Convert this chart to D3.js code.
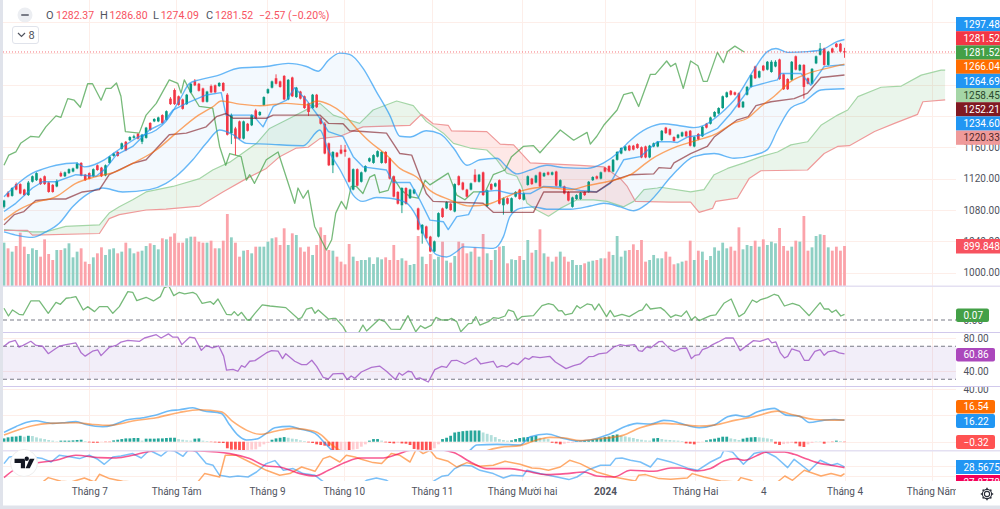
<!DOCTYPE html>
<html><head><meta charset="utf-8">
<script src="https://cdn.jsdelivr.net/npm/d3@7"></script>
<style>html,body{margin:0;padding:0;background:#fff;overflow:hidden}svg{display:block;font-family:Roboto,"Noto Sans",sans-serif}.soft{filter:blur(.4px)}</style>
</head><body><svg id="c" width="1000" height="509"></svg>
<script>
const opens=[1084,1102,1098,1113,1113,1106,1099,1116,1118,1120,1123,1115,1112,1110,1127,1123,1127,1129,1133,1140,1125,1127,1123,1137,1134,1124,1140,1149,1154,1158,1167,1169,1172,1177,1167,1172,1191,1193,1193,1201,1195,1222,1233,1225,1221,1215,1230,1244,1241,1235,1218,1238,1239,1238,1242,1227,1178,1184,1193,1171,1190,1188,1207,1201,1214,1229,1236,1248,1244,1251,1221,1249,1224,1231,1225,1216,1210,1227,1197,1190,1165,1137,1153,1157,1157,1146,1106,1132,1116,1129,1142,1140,1148,1140,1154,1146,1123,1103,1086,1108,1095,1101,1082,1050,1059,1046,1027,1046,1082,1082,1088,1078,1123,1115,1106,1106,1125,1116,1128,1085,1113,1110,1118,1086,1095,1078,1097,1106,1093,1112,1120,1115,1128,1123,1128,1125,1129,1110,1110,1103,1084,1094,1094,1103,1103,1118,1123,1120,1134,1136,1129,1144,1152,1156,1162,1162,1164,1160,1161,1147,1161,1161,1169,1185,1183,1173,1172,1174,1180,1181,1161,1177,1174,1190,1190,1199,1203,1210,1224,1232,1230,1229,1211,1227,1237,1263,1249,1264,1259,1256,1263,1272,1253,1247,1246,1276,1258,1265,1248,1241,1267,1278,1286,1265,1286,1292,1292,1282.37];
const closes=[1092,1097,1108,1106,1101,1099,1115,1123,1127,1113,1113,1103,1103,1117,1123,1128,1132,1133,1139,1124,1118,1120,1132,1131,1123,1137,1148,1152,1149,1165,1156,1173,1174,1171,1176,1185,1182,1196,1198,1191,1206,1215,1215,1214,1209,1227,1241,1239,1232,1218,1231,1230,1230,1242,1232,1176,1201,1171,1171,1193,1181,1201,1197,1205,1224,1234,1244,1241,1237,1221,1246,1225,1236,1222,1210,1205,1227,1211,1190,1152,1137,1154,1148,1152,1154,1116,1132,1111,1128,1136,1146,1150,1155,1154,1140,1120,1097,1088,1108,1088,1106,1106,1055,1061,1044,1027,1040,1076,1071,1090,1080,1113,1112,1106,1097,1114,1116,1125,1099,1105,1106,1114,1088,1095,1088,1095,1103,1094,1101,1123,1113,1124,1110,1127,1125,1128,1111,1118,1101,1092,1096,1099,1102,1099,1116,1122,1120,1128,1129,1129,1144,1154,1159,1161,1156,1157,1159,1147,1147,1162,1165,1167,1181,1178,1176,1168,1176,1179,1174,1162,1173,1170,1186,1185,1198,1205,1210,1225,1230,1227,1227,1211,1218,1237,1252,1248,1257,1258,1269,1269,1269,1247,1234,1234,1269,1259,1265,1237,1241,1260,1276,1286,1265,1282,1281,1288,1282,1281.52];
const highs=[1093,1104,1109,1115,1114,1107,1117,1124,1128,1121,1124,1116,1113,1119,1129,1129,1133,1134,1141,1141,1126,1128,1133,1138,1135,1138,1149,1153,1155,1166,1168,1174,1176,1178,1177,1186,1192,1197,1199,1202,1207,1224,1235,1226,1222,1228,1242,1247,1242,1236,1232,1240,1240,1243,1243,1229,1203,1186,1194,1194,1191,1202,1209,1206,1225,1235,1245,1253,1245,1252,1247,1250,1237,1232,1226,1217,1228,1228,1198,1192,1166,1155,1154,1163,1163,1147,1133,1133,1129,1137,1147,1151,1156,1155,1155,1147,1124,1104,1109,1109,1107,1107,1083,1062,1060,1047,1041,1077,1083,1091,1089,1114,1124,1116,1107,1115,1132,1126,1129,1106,1114,1115,1119,1096,1096,1096,1104,1107,1102,1124,1121,1125,1129,1128,1129,1129,1130,1119,1111,1104,1097,1100,1103,1104,1117,1123,1124,1129,1135,1137,1145,1155,1160,1162,1163,1163,1165,1161,1162,1163,1166,1168,1182,1186,1184,1174,1177,1180,1181,1182,1174,1178,1187,1191,1199,1206,1211,1226,1231,1233,1231,1230,1219,1238,1253,1264,1258,1265,1270,1271,1271,1273,1254,1248,1270,1277,1266,1266,1249,1261,1277,1293,1287,1283,1287,1293,1293,1286.8];
const lows=[1082,1096,1097,1105,1100,1098,1098,1115,1117,1112,1112,1102,1102,1109,1122,1122,1126,1128,1132,1123,1117,1119,1122,1130,1122,1123,1139,1148,1148,1157,1155,1168,1171,1170,1164,1171,1181,1192,1192,1190,1194,1214,1214,1213,1208,1214,1229,1238,1231,1217,1217,1229,1229,1237,1231,1175,1164,1150,1170,1170,1180,1187,1196,1200,1213,1228,1235,1240,1236,1220,1220,1224,1223,1221,1209,1200,1209,1210,1189,1151,1136,1127,1147,1151,1148,1115,1105,1110,1115,1128,1141,1139,1147,1139,1139,1119,1096,1087,1076,1087,1094,1100,1054,1037,1043,1026,1026,1045,1070,1081,1079,1077,1111,1105,1096,1105,1115,1115,1098,1084,1105,1109,1087,1074,1087,1077,1096,1093,1092,1111,1112,1114,1109,1122,1124,1124,1110,1109,1100,1091,1083,1093,1093,1098,1102,1117,1119,1119,1128,1128,1128,1143,1151,1155,1155,1156,1158,1146,1146,1146,1160,1160,1168,1177,1175,1167,1171,1173,1173,1161,1160,1169,1173,1184,1189,1198,1202,1209,1223,1226,1226,1210,1210,1226,1236,1247,1248,1257,1258,1255,1262,1246,1233,1233,1245,1258,1257,1222,1240,1240,1266,1277,1264,1264,1280,1287,1281,1274.09];
const volumes=[975,848,773,900,1200,885,720,848,810,660,1050,720,585,810,810,848,960,645,773,848,548,495,645,735,870,698,825,848,735,773,975,848,735,773,795,900,960,923,825,1073,1050,1110,1185,975,975,1073,1110,1110,998,975,975,1020,848,848,1020,1620,1095,975,660,795,810,735,885,885,885,998,1073,1095,923,1298,923,1185,1148,870,773,885,698,923,1320,1148,810,795,660,548,488,945,660,563,585,585,645,495,645,600,645,585,923,585,623,570,473,495,1125,660,495,720,600,660,998,570,525,675,998,960,735,773,870,660,1170,735,585,810,885,900,510,600,585,675,585,1035,750,810,1275,735,660,548,660,773,660,548,585,473,473,510,548,570,585,623,623,773,698,1125,660,795,810,938,810,1035,548,585,698,623,623,773,660,488,510,548,570,1020,585,795,773,585,675,870,795,975,848,885,795,1320,825,923,900,1020,885,1050,923,998,960,1305,900,795,885,1020,998,1575,795,870,1125,1163,1148,870,795,885,795,899.848];
const bbUpper=[[0,1097],[7,1127],[9.5,1132],[12.8,1137],[17.7,1140],[19.8,1135],[24.7,1144],[27.6,1154.5],[33.3,1173.5],[37.5,1182],[39.9,1193],[43.2,1220],[45.7,1241.5],[48.1,1246],[52.3,1251],[58,1261],[64.6,1263],[70,1267],[74.5,1263],[77.4,1257],[79.9,1271],[82.7,1280],[85.1,1278.5],[88.4,1261],[91.7,1231],[95,1201],[97.5,1174],[100,1173],[104,1181],[107.4,1177],[110.7,1159],[114,1137],[117.2,1144],[121.4,1146],[123.8,1135],[126.3,1126],[129.6,1131],[133.7,1137],[137.8,1134],[143.6,1133],[147.7,1140],[151,1152],[154.3,1169],[158.4,1184],[162.5,1190],[165.8,1188],[169.9,1185],[172.4,1188],[176.5,1203],[180.6,1225],[184.7,1259],[188,1282],[190.1,1286],[193,1281],[197.9,1282],[201.2,1284],[205.3,1295],[207,1297.48]];
const bbLower=[[0,1052],[2.9,1048],[7,1045],[10.3,1052],[13.6,1063],[16.9,1084],[20.2,1099],[24.3,1108],[29.2,1103],[35.8,1106],[39.9,1114],[42.4,1123],[46.5,1144],[49.8,1165],[53.1,1182],[56.4,1176],[59.7,1165],[64.6,1164],[73.7,1162],[77.8,1182],[79.9,1156],[82.8,1131],[84.3,1116],[86,1099],[88.4,1091],[91.7,1096],[95,1095],[99.1,1089],[101.6,1071.5],[104,1042],[106.5,1023],[109,1020],[111.5,1027],[113.1,1033],[120.5,1031],[123,1046],[124.6,1071.5],[127.1,1082],[130.4,1084],[133.7,1081],[139.5,1081],[144.4,1085],[147.7,1088.5],[151.8,1084],[155.1,1079],[158.4,1088],[164.2,1122],[165.8,1131],[169.9,1148],[174.9,1152],[179.8,1146],[184.7,1150],[188,1157],[190.5,1182],[193.8,1210],[197.1,1218],[201.2,1233],[207,1234.6]];
const bbBasis=[[0,1067],[2.9,1078],[7,1088.5],[12.8,1097],[17.7,1114],[22.7,1122.5],[27.6,1129],[31.7,1139.5],[37.5,1156.5],[42.4,1178],[47.4,1199],[51.5,1212],[53.5,1219],[58,1215],[63,1213],[69.6,1216],[74.5,1214],[77,1219],[80.3,1214],[83.5,1203],[86.8,1184],[90.1,1167],[94.2,1150],[97.5,1133],[101.6,1122],[104.9,1105],[109.8,1093],[114.8,1085],[119.7,1088],[123.8,1097],[127.9,1105],[132.9,1109],[139.5,1106],[143.6,1111],[148.5,1116],[154.3,1125],[159.2,1144],[165.8,1161],[170.8,1169],[174.9,1176],[179.8,1191],[183.1,1197],[186.4,1212],[189.7,1225],[193.8,1244],[197.9,1254],[202.9,1261],[207,1266.04]];
const tenkan=[[0,1078],[2.9,1088.5],[7,1108],[9.5,1116],[12.8,1116],[17.7,1125],[22.7,1123],[25.1,1133],[27.6,1150],[31.7,1161],[35.8,1182],[39.1,1190.5],[41.6,1207.5],[44.9,1216],[49.8,1226.7],[53.5,1229.7],[54.7,1201],[58,1201],[61.3,1201],[63.8,1186],[66.3,1212],[69.6,1220],[71.6,1236],[74.5,1220],[77.8,1197],[79.9,1180],[83.5,1173.5],[86,1148],[88.4,1135],[94.2,1131],[95.8,1115],[100,1115],[102.4,1093],[104.9,1067],[108.2,1065],[109.4,1055],[111.5,1071.5],[114.4,1074],[117.2,1103],[121.4,1105],[124.6,1101],[129.6,1101],[132.9,1110],[137.8,1109],[141.9,1105],[146,1103],[149.3,1114],[152.6,1144],[156.7,1148],[160.9,1167],[164.2,1167],[165.8,1166],[168.3,1173],[172.4,1176],[175.7,1184],[179,1203],[183.9,1237],[188.9,1244],[190.5,1246],[191.3,1254],[196.3,1254],[198.7,1239],[202,1263],[206.1,1265],[207,1264.69]];
const kijun=[[0,1061],[2.5,1074],[4.9,1078],[7.8,1092],[11.9,1094],[15.2,1094],[19.3,1103],[23.5,1106],[25.9,1125],[31.7,1139.5],[35,1144],[40.7,1176],[44.9,1178],[49.8,1186],[52.3,1199],[54.7,1203],[56.4,1197],[64.6,1197],[66.3,1201],[77.8,1201],[79.9,1190.5],[83.5,1190],[85.1,1181],[88.4,1180],[94.2,1178],[97.5,1152],[100.4,1150],[104,1101],[105.7,1091],[118,1088.5],[120.5,1077],[130.4,1077],[132.9,1103],[146,1103],[150.2,1118],[154.3,1125],[160,1126],[161.3,1134],[164.2,1133],[165,1140],[169.1,1152],[173.2,1161],[174.9,1173],[180.6,1195],[183.3,1199],[185.2,1213],[188.9,1218],[194.6,1222],[197.9,1229],[201.2,1249],[207,1252.21]];
const chikou=[[0,1137],[1.2,1150],[2.9,1154],[4.1,1165],[6.6,1174],[8.6,1173],[10.3,1186],[12.8,1200],[14,1198],[15.7,1222],[17.3,1220],[18.8,1211],[20.6,1241],[21.8,1241],[23.9,1220],[25.1,1235],[26.3,1235],[27.7,1242],[28.8,1225],[29.9,1180],[33.3,1178],[35,1201],[37.5,1216],[40.7,1246],[42.8,1241.5],[43.6,1229],[44.4,1246],[46.1,1229],[48.1,1212],[51.4,1210],[53.1,1161],[54.6,1137],[55.6,1152],[58.4,1148],[59.7,1118],[60.5,1125],[61.7,1114],[64.6,1144],[67.5,1154],[71.6,1088.5],[72.4,1108],[73.7,1095],[74.9,1105],[76.5,1059],[79.4,1029],[80.7,1042],[81.7,1076],[83.1,1091],[84.3,1081],[85.5,1110],[86.8,1110],[88.4,1101],[90.1,1122],[91.3,1125],[92.5,1102],[94.6,1105],[95.8,1122],[97.9,1105],[100,1097],[102,1095],[103.7,1118],[104.9,1112],[109.4,1127],[111.5,1099],[113.5,1093],[115.6,1103],[118.5,1103],[120.5,1125],[123.4,1131],[125,1148],[127.9,1161],[130.4,1162],[132,1153],[133.7,1163],[137,1182],[140.3,1169],[143.6,1179],[144.4,1164],[146,1174],[147.7,1188],[151,1207.5],[152.6,1227],[154.7,1230],[156.3,1212],[159.2,1253],[160.4,1253],[163.2,1270],[164.2,1263],[165.4,1267],[167.3,1235],[169.1,1270],[170.9,1264],[172.2,1244],[173.2,1244],[175.7,1281],[177.2,1268],[178.2,1282],[180,1289],[182.3,1281.52]];
const spanA=[[0,1055],[7,1052],[10.3,1052],[15.2,1059],[23.5,1061],[25.9,1076],[28.4,1084],[31.7,1093],[35,1103],[41.6,1110],[48.2,1120],[51.4,1131],[55.6,1141],[58.4,1151],[62.2,1165],[65.4,1184],[70.4,1197],[74.5,1208],[77.8,1216],[81.1,1201],[83.5,1197],[87.6,1190.5],[90.9,1207.5],[96.7,1219],[100.8,1213],[104,1193],[108.2,1178],[110.7,1165],[114.8,1159],[118.9,1156.5],[121.4,1144],[123.8,1127],[126.3,1123],[127.5,1110],[128.8,1088.5],[131.2,1080],[134.1,1072],[137,1082],[141.1,1093],[145.2,1093],[148.5,1091],[152.6,1084],[155.1,1091],[157.6,1106],[160.9,1108],[161.7,1109],[169.1,1103],[172.4,1106],[174.9,1125],[178.2,1133],[182.3,1140],[186.4,1148],[190.5,1154],[193.8,1163],[197.9,1167],[201.2,1188],[205.3,1201],[207.8,1207.5],[210.3,1224.5],[216,1236.5],[221,1238],[225.9,1252],[230.8,1258.45],[231.8,1258.45]];
const spanB=[[0,1054],[5.8,1054],[7,1048],[23.5,1050],[25.9,1069],[28.4,1074],[35,1080],[39.9,1081],[48.2,1085],[53.9,1103],[59.7,1120],[64.6,1133],[67.9,1148],[72,1159],[74.9,1160],[77.8,1171],[82.8,1174],[88.4,1186],[100,1188],[102.8,1202],[105.7,1190],[109.4,1188],[110.2,1181],[118.9,1180],[122.2,1164],[125.5,1163],[129.6,1140],[141.9,1137],[147.7,1135],[151.8,1120],[153.5,1110],[155.5,1091],[164.2,1090],[169.1,1090],[171.2,1077],[174.5,1082],[175.3,1091],[180.6,1095],[183.5,1120],[186.4,1130],[197.9,1131],[202,1152],[205.3,1161],[208.2,1162],[214.4,1180],[219.3,1190.5],[225,1202],[226.3,1218],[231.8,1220.33]];
const momentum=[[0,.144],[1.1,.049],[2.1,.123],[3.7,.07],[4.7,.062],[6.6,.234],[8.7,.234],[10.9,.082],[12.8,.217],[13.9,.193],[15.3,.267],[16.5,.275],[17.7,.287],[19.5,.123],[20.6,.164],[22.3,.103],[23.5,.164],[25.5,.164],[26.8,.082],[28.4,.164],[30.5,.349],[31.7,.34],[32.7,.238],[35,.279],[36.8,.234],[38.5,.287],[39.5,.398],[40.6,.418],[41.8,.299],[43.2,.34],[44.5,.32],[46.5,.34],[47.4,.316],[48.8,.205],[50.8,.226],[51.6,.193],[52.7,.258],[54.8,.07],[56,.062],[56.7,.103],[57.6,.053],[58.5,.094],[59.9,0],[60.5,0],[61.8,.082],[63.6,.185],[65.5,.172],[69.4,.152],[72.5,.012],[73.3,.029],[74.5,.135],[75.8,.152],[76.6,.082],[77.4,.123],[79.9,.012],[81.1,.02],[81.7,.02],[83.5,-.082],[84.3,-.152],[85.1,-.225],[86.8,-.246],[87.4,-.152],[88.4,-.062],[89.3,-.135],[92.4,.008],[93.8,-.02],[95.3,-.111],[97.6,-.115],[99.5,.053],[101.4,-.144],[102.6,-.07],[103.7,-.103],[105.3,-.062],[106.4,.033],[107.8,0],[109.4,0],[110.2,.02],[111.5,-.02],[112.5,-.144],[114.4,-.045],[115.2,-.041],[116.2,.041],[117.2,-.062],[119.3,-.02],[120.5,.029],[121.8,.02],[123.4,.049],[124.2,.123],[125.5,.103],[126.5,0],[127.5,.041],[130.4,.053],[132.5,.176],[134.1,.201],[135.3,.185],[136.6,.111],[137.4,.115],[138.2,.062],[139.9,.082],[141.1,.176],[141.9,.144],[143.6,.197],[144.8,.185],[145.5,.123],[146.5,.197],[148.4,.041],[149.3,.119],[150.3,.041],[152.2,.07],[154,.041],[156.3,.111],[157.2,.123],[158.2,.197],[159.2,.135],[161.7,.152],[162.7,.115],[164.2,.033],[165.4,.062],[166.8,.045],[168.1,.111],[169.3,0],[170.2,.041],[171.2,-.008],[174,.053],[175.3,.062],[177.3,.205],[179.1,.258],[181,.041],[182.3,.082],[184.3,.246],[185.4,.217],[186.2,.246],[188,.275],[189.7,.316],[190.7,.299],[192.2,.172],[194.2,.205],[195.9,.176],[198.3,.053],[201,.213],[202,.135],[203.1,.135],[203.9,.094],[204.9,.123],[206.1,.049],[207,.07]];
const rsi=[[0,70],[1.3,75],[2.8,77],[3.7,69],[4.7,71],[6.6,76],[7.9,71],[9.5,70],[10.9,61],[12.4,66],[13.6,70],[15.3,72],[17.7,74],[19,62],[20,58],[21.8,64],[23.1,65.5],[23.9,58.6],[26,69],[27.6,71],[28.8,75],[30.5,77],[33.4,76],[34.6,80],[37.5,84],[38.7,80],[40.5,85],[41.6,81],[42.8,81],[43.8,72],[45.7,81],[47,80],[48.6,65],[49.8,71],[51.3,68],[52.9,70.4],[54.1,58],[54.8,41],[56.4,42],[57.6,39.7],[58.5,46.5],[59.3,44.5],[60.5,51.8],[61.8,52.6],[64.6,61.9],[65.9,64.7],[67.5,64],[68.6,55],[69.4,61],[71.6,51.8],[73.3,47.7],[74.5,47.7],[75.8,53],[77,45.7],[78.6,32.4],[79.9,30.4],[81,36.4],[83.5,37.2],[84.5,29.6],[85.5,34],[86.4,31.2],[88,38.8],[90.5,44.5],[92.5,46],[94.2,39.7],[96.4,29.6],[97.3,37.6],[98.1,34.8],[99.5,39.7],[100.4,38.9],[101.4,30.4],[102.4,31.6],[104.5,26.7],[106.1,41.7],[107.8,45.7],[109,44.5],[110.2,52.6],[111.5,53],[113.5,48.5],[116.2,55.8],[117.4,48.5],[120.5,51.8],[121.4,44.5],[122.6,46.5],[123.8,44.9],[125.3,49.8],[126.5,47.7],[128.3,55.8],[129.3,54.2],[130.2,57.4],[132,56.2],[134.4,57.8],[135.8,51],[138.4,42.9],[140.3,46.5],[141.9,48.5],[144,57.4],[145.2,57.8],[146.5,60.7],[148.4,61.9],[150.2,69.1],[151.8,72],[153,70.8],[155.3,72],[156.3,64.7],[157.2,63.9],[158.2,69.1],[159.2,67.9],[161.3,75.6],[162.1,76],[162.9,72],[164.2,65.9],[165.2,63.9],[166.6,67.1],[168.1,67.9],[169.3,55],[170.2,59],[171.2,59.9],[172,65.9],[173.2,67.9],[174.5,72],[175.9,75.2],[177.7,80],[179.6,80],[181.3,64.7],[182.7,70],[184.6,76.8],[186.2,76],[188.2,79.3],[189.1,74],[190.1,75.2],[191.2,61.9],[192.2,55.8],[193,57.8],[194,66.7],[195.9,63.9],[197.1,53],[198.2,53],[199.7,63.9],[201,65.9],[202,59],[202.9,63.1],[204.5,64.7],[205.7,61.9],[207,60.86]];
const macdLine=[[0,7.1],[2.9,11.4],[5.4,14.6],[7.9,15.9],[10.3,14.6],[12,13.9],[15.3,14.6],[17.7,15.2],[20.2,13.1],[24.3,11.4],[26.8,12.6],[30.1,16.4],[34.2,18.2],[37.5,20.2],[40.8,23.5],[43.2,24.2],[46.5,25.8],[49,23.5],[53.5,21.5],[55.6,12.6],[57.6,5],[59.7,1.3],[62.2,2],[64.6,6.3],[66.7,10.6],[70.4,11.6],[72.9,9.6],[76.6,6.3],[79.1,-1.3],[81.1,-7.6],[88.4,-22.7],[100.8,-32.8],[109,-22.7],[114.8,-6.3],[116.4,-2.5],[121.4,-2],[127.1,-2.5],[129.6,3.8],[133.7,5.8],[137.8,2.5],[141.1,.5],[144.4,1.3],[148.5,5],[153.5,12.1],[155.9,13.9],[159.2,13.4],[162.5,16.2],[164.2,15.9],[166.6,13.9],[171.2,10.6],[174.9,12.6],[178.2,18.9],[180.2,20.2],[182.7,18.9],[185.6,22.7],[189.7,25.3],[192.6,20.2],[195.9,19.4],[198.3,14.6],[202,16.4],[204.5,16.9],[207,16.22]];
const macdSignal=[[0,5],[2.9,8.3],[7,12.1],[11.1,13.9],[17.7,14.4],[21.8,13.1],[26,12.4],[31.7,15.7],[37.5,18.2],[43.2,22.2],[48.2,24.2],[53.5,22.7],[56.4,15.2],[59.7,8.8],[63,5.6],[67.1,8.1],[71.2,10.1],[76.2,8.1],[78.2,5],[80.3,-1.3],[82.8,-6.8],[88.4,-22.7],[100.8,-31.6],[109,-29],[118.9,-6.8],[122.2,-4.3],[127.1,-3],[131.2,1.3],[134.5,3.3],[137.8,3],[141.9,.8],[146,2],[152.6,5],[156.7,10.6],[162.5,13.9],[166.6,13.1],[171.2,11.9],[174.9,12.6],[180.2,16.4],[184.7,18.9],[190.5,23.2],[194.6,20.2],[199.6,16.9],[204.5,16.4],[207,16.54]];
const macdHist=[2.5,3.3,3.8,4,4.5,3.8,4.5,4.3,3.3,2.5,2,1.3,.8,.3,.8,.8,.8,1,1.3,1.5,.5,-.5,-.8,-.8,-.3,-.3,-.3,1,1.5,2,2.5,2.5,2.8,2.8,.8,2.3,2.3,2.3,2.5,2.5,2.8,3,3,2,1.5,1,.8,2.3,2.5,.8,.5,-.3,-.5,-.8,-1,-5,-6,-6,-6.8,-6.8,-6.3,-6,-5.8,-3.8,-2,-1,1.5,2.5,3,3.5,3,2.3,2,1,.5,-.5,-1,-2,-2.5,-3,-3.5,-7,-7,-6.5,-6.3,-6.3,-6,-5.5,-3.8,-2,.8,2,2,.8,-.5,-1,-1.3,-1,-1.3,-1.5,-2.5,-5.5,-6,-6.5,-7,-7,-5,-2,2,3,4.5,7,7.5,8,8.3,8.5,8.5,8.5,7,6,5,3.5,2,1.3,.8,1,2,2.8,3.3,3.5,4,4.5,3,2.5,2,-.8,-1.3,-2,-1.5,-1,-.8,.3,.3,.8,1,1.5,2,2.5,3.5,4,5,5.5,4.5,4,3.3,2.8,2,1.5,1,.8,2.5,2.8,2,1.5,1.3,1,.8,.5,-1.3,-1.5,-2,-.8,-.3,1,1.8,2.3,3,3.8,3.8,2.5,2,1.3,2.3,3,3.3,3.5,3.3,3,2.5,2,-1.5,-2.5,-1.8,-1.3,-1,-1.3,-3.5,-4,-2,-1,.1,.1,-1.5,-.3,-.3,.8,.5,-.32];
const adxBlue=[[0,31.9],[1.3,38.5],[3.7,39.5],[7,38.5],[9.5,36.9],[11.6,33.5],[13.6,40.2],[16.5,38.5],[18.6,36.9],[21,40.2],[23.1,36.2],[24.7,31.2],[26.8,38.5],[28.8,39.5],[31.7,41.9],[33.8,37.5],[35.8,45.2],[38.7,39.5],[40.4,45.2],[42,44.5],[44.1,39.2],[45.7,46.9],[47.4,43.5],[49.8,31.9],[51.5,30.2],[53.1,20.2],[55.6,18.5],[57.6,19.5],[60.1,18.5],[62.2,23.5],[64.6,31.9],[66.7,34.9],[68.8,25.2],[71.2,26.9],[73.7,21.9],[76.6,20.2],[78.2,15.2],[79.9,10.2],[85.1,3.5],[89.3,15.2],[91.7,17.5],[94.2,15.2],[96.7,8.5],[102.4,3.5],[106.1,15.2],[107.8,19.2],[109.4,20.2],[111,26.9],[112.7,30.2],[115.2,29.5],[117.2,25.2],[120.5,21.9],[123,17.5],[125,20.2],[127.8,19.5],[128.8,25.2],[132,21.9],[136.2,18.5],[139.1,15.9],[141.1,18.5],[143.6,25.2],[146.9,30.2],[149.3,30.2],[150.6,36.9],[152.2,37.5],[154.3,35.2],[156.7,33.5],[159.2,28.5],[160.9,36.9],[164.2,33.5],[165.4,31.9],[168.7,26.9],[170.8,25.2],[174,33.5],[176.5,38.5],[177.3,45.2],[179.4,43.5],[182.1,31.2],[184.7,41.9],[187.2,44.5],[190.1,38.5],[193,27.9],[194.6,36.2],[198.3,24.5],[201,35.2],[203.7,30.2],[205.3,31.9],[207,28.57]];
const adxOrange=[[3.7,3.5],[7.8,6.9],[9.5,13.5],[10.9,17.9],[14,14.2],[16.5,13.5],[19.8,17.5],[22.3,13.5],[23.5,21.2],[26,16.9],[29.2,14.2],[33.4,12.9],[40,3.5],[47.4,11.9],[49.4,21.9],[53.1,18.5],[54.5,40.2],[57.2,40.2],[60.5,33.5],[64.6,25.2],[67.9,20.2],[70.4,21.9],[73.3,28.5],[76.6,24.2],[78.6,36.9],[80.3,39.2],[82.7,33.5],[84.3,40.2],[86.4,38.5],[88,36.2],[90.9,32.9],[93,31.9],[95.4,41.9],[97.5,40.2],[100,33.5],[101.6,46.9],[103.2,41.9],[104.9,45.2],[106.5,37.5],[109.4,34.2],[111.5,28.5],[114,32.9],[117.2,29.2],[120.5,30.2],[123.4,34.2],[127.1,31.2],[130,27.5],[132,26.9],[134.1,25.2],[137,28.5],[139.3,35.2],[141.9,31.9],[146,23.5],[150.2,18.5],[155.5,14.5],[156.3,20.2],[158,20.9],[161.3,16.9],[164.2,16.2],[168.3,17.5],[169.5,21.9],[172.4,18.5],[176.5,14.5],[180.6,13.5],[181.5,17.9],[183.9,15.2],[188,6.9],[190.5,13.5],[192.3,19.5],[194.2,15.2],[197.1,25.2],[201.2,19.5],[203.7,21.9],[206.1,19.5],[207,21.9]];
const adxPink=[[0,17.9],[2.9,26.9],[7,31.9],[12.8,35.2],[17.7,40.2],[23.5,37.9],[27.6,37.5],[31.7,40.2],[35,43.5],[39.1,45.2],[48.2,44.5],[55.6,41.9],[60.5,36.9],[64.6,29.5],[67.9,28.5],[72.9,21.9],[76.6,19.5],[79.9,25.2],[84.3,33.5],[87.6,37.5],[93.4,37.5],[96.7,40.9],[100,45.2],[104.9,46.9],[110.7,42.9],[115.6,31.9],[118.9,26.9],[124.6,26.9],[128.8,24.2],[133.7,20.9],[138.6,21.9],[142.8,23.5],[146,19.5],[150.2,18.5],[154.3,25.2],[160,24.2],[164.2,27.5],[166.6,27.5],[170.8,24.5],[174,26.9],[177.3,34.5],[180.2,36.9],[182.3,35.2],[188,43.5],[192.2,43.5],[194.6,41.2],[197.9,36.2],[201.2,31.9],[203.7,30.2],[207,27.88]];
const timeTicks=[21,42.4,64.8,83.7,105.4,127.6,148,170.2,187,207,228.6];
const timeLabels=["Tháng 7","Tháng Tám","Tháng 9","Tháng 10","Tháng 11","Tháng Mười hai","2024","Tháng Hai","4","Tháng 4","Tháng Năm"];
const priceTicks=[1000,1040,1080,1120,1160,1200,1240,1280,1320];
const priceTags=["1297.48","1281.52","1281.52","1266.04","1264.69","1258.45","1252.21","1234.60","1220.33"];
const ohlcLegend=[["O","1282.37"],["H","1286.80"],["L","1274.09"],["C","1281.52"]];
const changeLegend="−2.57 (−0.20%)";

const svg=d3.select("#c");
const W=956,GREY="#50535e",UP="#089981",DN="#f23645",FS=10,FF='Roboto,"Noto Sans",sans-serif';
const x=d3.scaleLinear().domain([0,207]).range([4,844.5]);
const yP=d3.scaleLinear().domain([1000,1320]).range([272.7,21.8]);
const yV=d3.scaleLinear().domain([0,900]).range([286,246]);
const yM=d3.scaleLinear().domain([0,.07]).range([320,314.3]);
const yR=d3.scaleLinear().domain([40,80]).range([371,338]);
const yD=d3.scaleLinear().domain([0,40]).range([441.7,389]);
const yA=d3.scaleLinear().domain([14.5,44.5]).range([481,451]);
const defs=svg.append("defs");
function clip(id,x0,y0,x1,y1){defs.append("clipPath").attr("id",id).append("rect").attr("x",x0).attr("y",y0).attr("width",x1-x0).attr("height",y1-y0);}
clip("pMain",3,0,W,286);clip("pMom",3,287,W,332);clip("pRsi",3,333,W,386);clip("pMacd",3,387,W,450);clip("pAdx",3,451,W,481);
clip("aMom",W,287,1000,332);clip("aRsi",W,333,1000,386);clip("aMacd",W,387,1000,450);clip("aTime",3,481,W,505);

const bg=svg.append("g");
bg.append("rect").attr("width",1000).attr("height",509).attr("fill","#fff");
const grid=bg.append("g").attr("stroke","#fdeee9").attr("stroke-width",1);
grid.selectAll("line.v").data(timeTicks).join("line").attr("x1",d=>Math.round(x(d))+.5).attr("x2",d=>Math.round(x(d))+.5).attr("y1",0).attr("y2",481);
function hgrid(vals,scale){grid.append("g").selectAll("line").data(vals).join("line").attr("x1",3).attr("x2",W).attr("y1",d=>Math.round(scale(d))+.5).attr("y2",d=>Math.round(scale(d))+.5);}
hgrid(priceTicks,yP);hgrid([40,80],yR);hgrid([0,20,40],yD);hgrid([20,30],yA);

const lineOf=(y,c)=>{const l=d3.line().x(d=>x(d[0])).y(d=>y(d[1]));return c?l.curve(c):l;};
function draw(g,data,y,color,w,curve,op){g.append("path").datum(data).attr("d",lineOf(y,curve)).attr("fill","none").attr("stroke",color).attr("stroke-width",w).attr("stroke-opacity",op==null?1:op).attr("stroke-linejoin","round");}
const mono=d3.curveMonotoneX;

// main pane
const mainClip=svg.append("g").attr("clip-path","url(#pMain)");
const main=mainClip.append("g").attr("class","soft");
main.selectAll("rect.vol").data(volumes).join("rect").attr("class","vol")
 .attr("x",(d,i)=>x(i)-1.4).attr("width",2.8).attr("y",d=>yV(d)).attr("height",d=>yV(0)-yV(d))
 .attr("fill",(d,i)=>closes[i]>=opens[i]?"#8fd0c4":"#fba3aa");

// cloud: each region is the overlap of "below one span" and "above the other"
const below=s=>d3.area().x(d=>x(d[0])).y1(d=>yP(d[1])).y0(300)(s);
const above=s=>d3.area().x(d=>x(d[0])).y1(d=>yP(d[1])).y0(0)(s);
defs.append("clipPath").attr("id","belowA").append("path").attr("d",below(spanA));
defs.append("clipPath").attr("id","belowB").append("path").attr("d",below(spanB));
main.append("g").attr("clip-path","url(#belowA)").append("path").attr("d",above(spanB)).attr("fill","#43a047").attr("fill-opacity",.11);
main.append("g").attr("clip-path","url(#belowB)").append("path").attr("d",above(spanA)).attr("fill","#f44336").attr("fill-opacity",.12);
draw(main,spanA,yP,"#a5d6a7",1.2);
draw(main,spanB,yP,"#ef9a9a",1.2);

// Bollinger band fill between the two envelopes
const up=bbUpper.map(d=>[x(d[0]),yP(d[1])]),lo=bbLower.slice().reverse().map(d=>[x(d[0]),yP(d[1])]);
main.append("path").attr("d","M"+up.concat(lo).map(p=>p.join(",")).join("L")+"Z").attr("fill","#2196f3").attr("fill-opacity",.055);

// dotted last-price line
mainClip.append("line").attr("x1",3).attr("x2",W).attr("y1",yP(closes[207])).attr("y2",yP(closes[207])).attr("stroke",DN).attr("stroke-opacity",.7).attr("stroke-dasharray","1 2");

draw(main,chikou,yP,"#43a047",1.3,null,.72);
// candles
main.selectAll("line.wick").data(opens).join("line").attr("x1",(d,i)=>x(i)).attr("x2",(d,i)=>x(i))
 .attr("y1",(d,i)=>yP(highs[i])).attr("y2",(d,i)=>yP(lows[i])).attr("stroke",(d,i)=>closes[i]>=opens[i]?UP:DN).attr("stroke-width",.9);
main.selectAll("rect.body").data(opens).join("rect").attr("x",(d,i)=>x(i)-1.3).attr("width",2.6)
 .attr("y",(d,i)=>yP(Math.max(d,closes[i]))).attr("height",(d,i)=>Math.max(1,Math.abs(yP(d)-yP(closes[i]))))
 .attr("fill",(d,i)=>closes[i]>=opens[i]?UP:DN);
draw(main,bbUpper,yP,"#2196f3",1.4,mono,.68);
draw(main,bbLower,yP,"#2196f3",1.4,mono,.68);
draw(main,tenkan,yP,"#2196f3",1.4,null,.68);
draw(main,kijun,yP,"#801922",1.4,null,.62);
draw(main,bbBasis,yP,"#ff6d00",1.4,mono,.6);

// momentum pane
const mom=svg.append("g").attr("clip-path","url(#pMom)");
mom.append("line").attr("x1",3).attr("x2",W).attr("y1",yM(0)).attr("y2",yM(0)).attr("stroke","#787b86").attr("stroke-dasharray","4 3");
draw(mom.append("g").attr("class","soft"),momentum,yM,"#43a047",1.3,null,.72);

// RSI pane
const rp=svg.append("g").attr("clip-path","url(#pRsi)");
rp.append("rect").attr("x",3).attr("width",W-3).attr("y",yR(70)).attr("height",yR(30)-yR(70)).attr("fill","#7e57c2").attr("fill-opacity",.1);
rp.selectAll("line").data([70,30]).join("line").attr("x1",3).attr("x2",W).attr("y1",d=>yR(d)).attr("y2",d=>yR(d)).attr("stroke","#787b86").attr("stroke-dasharray","4 3");
draw(rp.append("g").attr("class","soft"),rsi,yR,"#9c4fc4",1.3,null,.78);

// MACD pane
const mp=svg.append("g").attr("clip-path","url(#pMacd)").append("g").attr("class","soft");
mp.selectAll("rect").data(macdHist).join("rect").attr("x",(d,i)=>x(i)-1.4).attr("width",2.8)
 .attr("y",d=>Math.min(yD(d),yD(0))).attr("height",d=>Math.abs(yD(d)-yD(0)))
 .attr("fill",(d,i)=>{const p=i?macdHist[i-1]:0;return d>=0?(d>=p?"#26a69a":"#b2dfdb"):(d<=p?"#ff5252":"#ffcdd2");});
draw(mp,macdLine,yD,"#2196f3",1.6,mono,.65);
draw(mp,macdSignal,yD,"#ff6d00",1.6,mono,.55);

// ADX pane
const ap=svg.append("g").attr("clip-path","url(#pAdx)").append("g").attr("class","soft");
draw(ap,adxBlue,yA,"#2196f3",1.5,null,.6);
draw(ap,adxOrange,yA,"#ff6d00",1.5,null,.58);
draw(ap,adxPink,yA,"#f50057",1.6,mono,.65);

// separators & frame
const sep=svg.append("g");
sep.append("rect").attr("x",0).attr("y",0).attr("width",3).attr("height",509).attr("fill","#e0e3eb");
sep.append("rect").attr("x",3).attr("y",285.5).attr("width",997).attr("height",1.5).attr("fill","#e4e0f2");
sep.append("line").attr("x1",3).attr("x2",1000).attr("y1",332.5).attr("y2",332.5).attr("stroke","#d1c9ec");
sep.append("line").attr("x1",3).attr("x2",1000).attr("y1",386.5).attr("y2",386.5).attr("stroke","#d1c9ec");
sep.append("rect").attr("x",3).attr("y",450).attr("width",997).attr("height",1.5).attr("fill","#e4e0f2");
sep.append("rect").attr("x",0).attr("y",505.5).attr("width",1000).attr("height",3.5).attr("fill","#e0e3eb");

// axes
function axis(scale,ticks,clipId){
 const ax=svg.append("g").attr("clip-path",clipId?`url(#${clipId})`:null);
 const inner=ax.append("g").attr("transform",`translate(${W},0)`).call(d3.axisRight(scale).tickValues(ticks).tickSize(0).tickPadding(7.5).tickFormat(d3.format(".2f")));
 inner.select(".domain").remove();
 inner.selectAll("text").attr("fill",GREY).attr("font-size",FS).attr("font-family",FF);
}
axis(yP,priceTicks.slice(0,5));
axis(yM,[0],"aMom");
axis(yR,[40,80],"aRsi");
axis(yD,[40],"aMacd");

const timeAxis=svg.append("g").attr("clip-path","url(#aTime)").append("g").attr("transform","translate(0,481)")
 .call(d3.axisBottom(x).tickValues(timeTicks).tickSize(0).tickPadding(7).tickFormat((d,i)=>timeLabels[i]));
timeAxis.select(".domain").remove();
timeAxis.selectAll("text").attr("fill",GREY).attr("font-size",FS).attr("font-family",FF).attr("font-weight",(d,i)=>timeLabels[i]==="2024"?700:400);

// value tags
const tags=svg.append("g");
function tag(y0,h,w,fill,text,tc,rx){
 const g=tags.append("g");
 g.append("rect").attr("x",W).attr("y",y0).attr("width",w).attr("height",h).attr("fill",fill).attr("rx",rx||0);
 g.append("text").attr("x",W+7.5).attr("y",y0+h/2+3.6).attr("font-size",FS).attr("fill",tc||"#fff").text(text);
 return g;
}
const tagFills=["#2196f3","#f23645","#43a047","#ff6d00","#2196f3","#a5d6a7","#801922","#2196f3","#ef9a9a"];
const tagInk=["#fff","#fff","#fff","#fff","#fff","#2a4a2c","#fff","#fff","#50282a"];
priceTags.forEach((s,i)=>tag(17+i*14.2,14.2,44,tagFills[i],s,tagInk[i]));
tag(239,14.5,44,"#f7525f","899.848");
tag(308.5,13.5,33,"#43a047","0.07",null,2);
tag(348,13.5,39,"#ab47bc","60.86",null,2);
tag(400,13.5,39,"#ff6d00","16.54",null,2);
tag(414,14,39,"#2196f3","16.22",null,2);
tag(435,14,39,"#ff5252","−0.32",null,2);
tag(460,14,44,"#2196f3","28.5675");
defs.append("clipPath").attr("id","pinkClip").append("rect").attr("x",W).attr("y",474).attr("width",44).attr("height",7);
tag(475,14,44,"#f50057","27.8778").attr("clip-path","url(#pinkClip)");

// legend
const leg=svg.append("g");
leg.append("circle").attr("cx",25).attr("cy",15).attr("r",7.5).attr("fill","#eceef2");
leg.append("rect").attr("x",21).attr("y",14).attr("width",8).attr("height",2).attr("rx",1).attr("fill","#787b86");
const legX=[46,100,153,206],valX=[56,109.5,160.7,215];
ohlcLegend.forEach((d,i)=>{
 leg.append("text").attr("x",legX[i]).attr("y",19).attr("font-size",11).attr("fill",GREY).text(d[0]);
 leg.append("text").attr("x",valX[i]).attr("y",19).attr("font-size",10.5).attr("fill","#f7525f").text(d[1]);
});
leg.append("text").attr("x",259).attr("y",19).attr("font-size",10.5).attr("fill","#f7525f").text(changeLegend);
leg.append("rect").attr("x",12.5).attr("y",26.5).attr("width",26).attr("height",17).attr("rx",2.5).attr("fill","#fff").attr("stroke","#e0e3eb");
leg.append("path").attr("d","M18 33l3.5 3.5 3.5-3.5").attr("fill","none").attr("stroke","#50535e").attr("stroke-width",1.2);
leg.append("text").attr("x",28.5).attr("y",38.8).attr("font-size",11).attr("fill",GREY).text("8");

// logo
const logo=svg.append("g").attr("transform","translate(24,463)");
logo.append("circle").attr("r",13.5).attr("fill","#fff").attr("stroke","#eee");
logo.append("path").attr("transform","scale(1.05)").attr("d","M-9-4H1V5H-3V0H-9ZM0.5-4a2.1 2.1 0 1 0 4.2 0a2.1 2.1 0 1 0-4.2 0M5.5-4H10L5.5 5H1.5Z").attr("fill","#131722");

// settings gear
const gear=svg.append("g").attr("transform","translate(987,494)").attr("fill","none").attr("stroke","#2a2e39");
gear.append("circle").attr("r",2.6).attr("stroke-width",1.1);
gear.append("circle").attr("r",4.6).attr("stroke-width",1.1);
gear.selectAll("line").data(d3.range(8)).join("line").attr("y1",-4.6).attr("y2",-6.2).attr("stroke-width",1.5).attr("transform",d=>`rotate(${d*45})`);
</script></body></html>
